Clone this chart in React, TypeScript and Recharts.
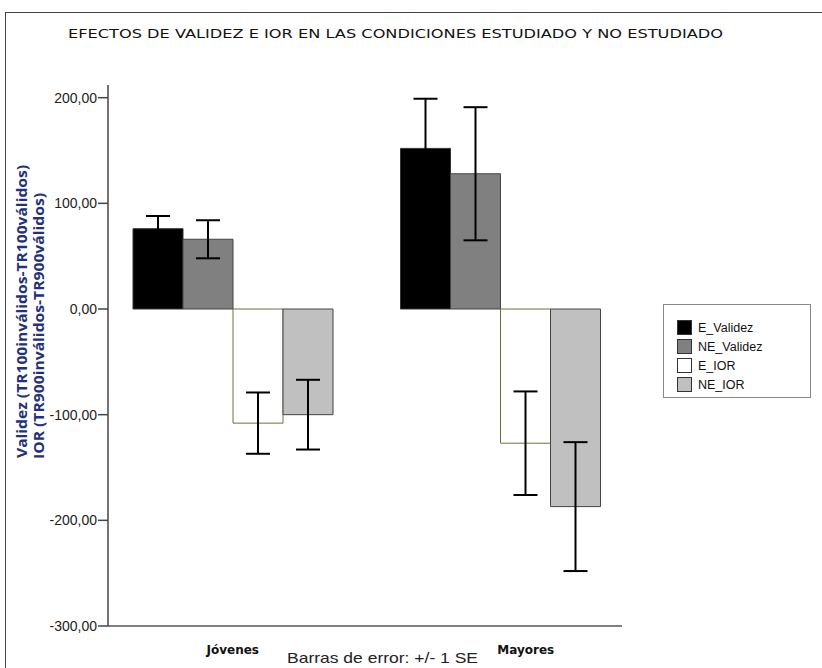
import React from "react";
import { BarChart, Bar, XAxis, YAxis, ErrorBar } from "recharts";

const categories = ["Jóvenes", "Mayores"];
const eValidez = [76, 152];
const eValidezSE = [12, 47];
const neValidez = [66, 128];
const neValidezSE = [18, 63];
const eIor = [-108, -127];
const eIorSE = [29, 49];
const neIor = [-100, -187];
const neIorSE = [33, 61];
const yTicks = [-300, -200, -100, 0, 100, 200];

const seriesNames = ["E_Validez", "NE_Validez", "E_IOR", "NE_IOR"];
const seriesFill = ["#000000", "#808080", "#ffffff", "#c0c0c0"];
const seriesStroke = ["#333333", "#444444", "#6e6e44", "#444444"];

const data = categories.map((c, i) => ({
  name: c,
  eValidez: eValidez[i],
  eValidezSE: eValidezSE[i],
  neValidez: neValidez[i],
  neValidezSE: neValidezSE[i],
  eIor: eIor[i],
  eIorSE: eIorSE[i],
  neIor: neIor[i],
  neIorSE: neIorSE[i],
}));

const fmt = (v: number) => v.toFixed(2).replace(".", ",");

function XTick(props: any) {
  const { x, y, payload, index } = props;
  return (
    <text
      x={index === 1 ? x - 3 : x}
      y={y + 20}
      textAnchor={index === 1 ? "start" : "middle"}
      fontFamily="DejaVu Sans"
      fontWeight="bold"
      fontSize={12}
      fill="#111"
    >
      {payload.value}
    </text>
  );
}

export default function App() {
  const keys = ["eValidez", "neValidez", "eIor", "neIor"];
  return (
    <div
      style={{
        position: "absolute",
        left: 0,
        top: 0,
        width: 822,
        height: 668,
        overflow: "hidden",
        background: "#fff",
      }}
    >
      <div
        style={{
          position: "absolute",
          left: 5,
          top: 12,
          width: 900,
          height: 700,
          border: "1px solid #444",
        }}
      />
      <div style={{ position: "absolute", left: 0, top: 0 }}>
        <BarChart
          width={822}
          height={668}
          data={data}
          margin={{ top: 85, right: 200, bottom: 12, left: 48 }}
          barGap={0}
          barSize={50}
        >
          <XAxis
            dataKey="name"
            height={30}
            padding={{ left: -9, right: -12 }}
            axisLine={{ stroke: "#555", strokeWidth: 1.5 }}
            tickLine={false}
            tick={<XTick />}
          />
          <YAxis
            width={60}
            domain={[-300, 212]}
            ticks={yTicks}
            tickFormatter={fmt}
            tickSize={10}
            tickMargin={1}
            axisLine={{ stroke: "#444", strokeWidth: 1.5 }}
            tickLine={{ stroke: "#444", strokeWidth: 1.5 }}
            tick={{ fill: "#222", fontSize: 14, fontFamily: "Liberation Sans" }}
          />
          {keys.map((k, i) => (
            <Bar
              key={k}
              dataKey={k}
              name={seriesNames[i]}
              fill={seriesFill[i]}
              stroke={seriesStroke[i]}
              strokeWidth={1}
              isAnimationActive={false}
            >
              <ErrorBar dataKey={k + "SE"} width={12} strokeWidth={2} stroke="#000" />
            </Bar>
          ))}
          <text
            x={68}
            y={38}
            textLength={655}
            lengthAdjust="spacingAndGlyphs"
            fontFamily="DejaVu Sans Condensed"
            fontSize={13}
            fill="#111"
          >
            EFECTOS DE VALIDEZ E IOR EN LAS CONDICIONES ESTUDIADO Y NO ESTUDIADO
          </text>
          <text
            transform="translate(27,458) rotate(-90)"
            textLength={293}
            lengthAdjust="spacingAndGlyphs"
            fontFamily="Open Sans"
            fontWeight="bold"
            fontSize={13.5}
            fill="#24307a"
          >
            Validez (TR100inválidos-TR100válidos)
          </text>
          <text
            transform="translate(44,459) rotate(-90)"
            textLength={266}
            lengthAdjust="spacingAndGlyphs"
            fontFamily="Open Sans"
            fontWeight="bold"
            fontSize={13.5}
            fill="#24307a"
          >
            IOR (TR900inválidos-TR900válidos)
          </text>
          <text
            x={287}
            y={663}
            textLength={191}
            lengthAdjust="spacingAndGlyphs"
            fontFamily="Liberation Sans"
            fontSize={15}
            fill="#222"
          >
            Barras de error: +/- 1 SE
          </text>
        </BarChart>
      </div>
      <div
        style={{
          position: "absolute",
          left: 663,
          top: 304,
          width: 146,
          height: 92,
          border: "1px solid #888",
          background: "#fff",
          fontFamily: "Liberation Sans",
          fontSize: 12.5,
          color: "#111",
        }}
      >
        {seriesNames.map((n, i) => (
          <div
            key={n}
            style={{
              position: "absolute",
              left: 13,
              top: 15 + i * 19,
              display: "flex",
              alignItems: "center",
              height: 15,
            }}
          >
            <div
              style={{
                width: 13,
                height: 13,
                background: seriesFill[i],
                border: "1px solid #333",
                marginRight: 6,
              }}
            />
            <span>{n}</span>
          </div>
        ))}
      </div>
    </div>
  );
}
